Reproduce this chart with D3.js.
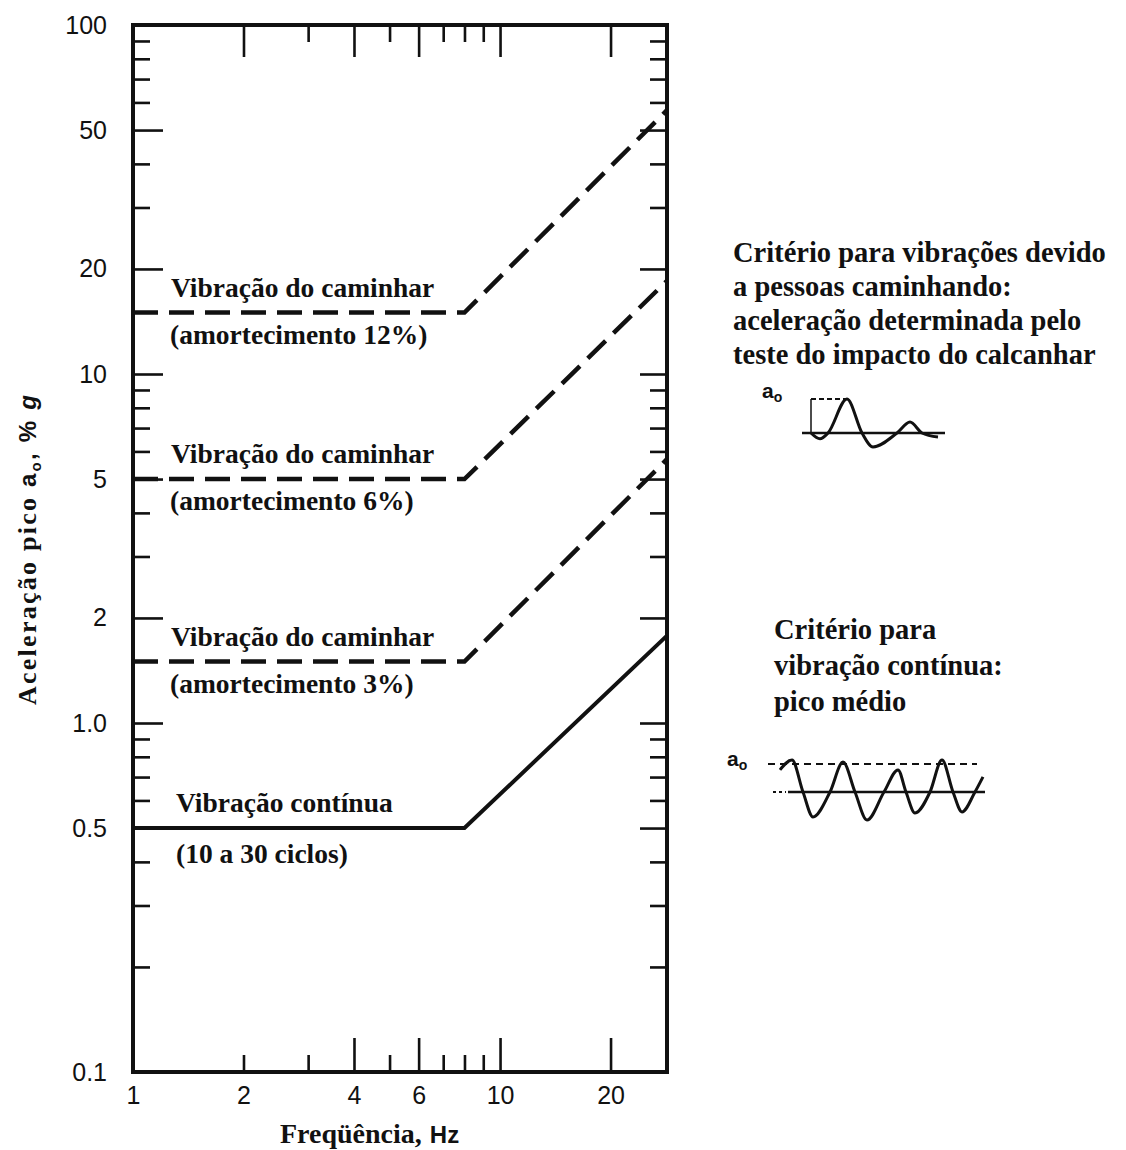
<!DOCTYPE html>
<html>
<head>
<meta charset="utf-8">
<script src="https://cdn.jsdelivr.net/npm/d3@7"></script>
<style>
  body { margin: 0; background: #fff; }
  svg { display: block; }
  .serif { font-family: "Liberation Serif", "Times New Roman", serif; font-weight: bold; fill: #111; }
  .sans { font-family: "Liberation Sans", Arial, sans-serif; fill: #111; }
</style>
</head>
<body>
<div id="my_dataviz"></div>
<script>
// criteria curves: frequency (Hz) and peak acceleration (% g)
const freqs = [1, 8, 28.5];
const walk12 = [15, 15, 57];
const walk6 = [5, 5, 18.5];
const walk3 = [1.5, 1.5, 5.7];
const continuous = [0.5, 0.5, 1.78];

const curveLine1 = ["Vibração do caminhar", "Vibração do caminhar", "Vibração do caminhar", "Vibração contínua"];
const curveLine2 = ["(amortecimento 12%)", "(amortecimento 6%)", "(amortecimento 3%)", "(10 a 30 ciclos)"];

// axis ticks
const yTickValues = [0.1, 0.5, 1, 2, 5, 10, 20, 50, 100];
const yTickText = ["0.1", "0.5", "1.0", "2", "5", "10", "20", "50", "100"];
const yMajor = [0.5, 1, 2, 5, 10, 20, 50];
const yMinor = [0.2, 0.3, 0.4, 0.6, 0.7, 0.8, 0.9, 3, 4, 6, 7, 8, 9, 30, 40, 60, 70, 80, 90];
const xTickValues = [1, 2, 4, 6, 10, 20];
const xTopLong = [2, 4, 6, 10, 20], xTopShort = [3, 5, 7, 8, 9];
const xBotLong = [4, 6, 10, 20], xBotShort = [2, 3, 5, 7, 8, 9];

// schematic signals in the side notes (time units, amplitude relative to a_o)
const heelT = [0, 9, 17, 36, 51, 62, 86, 99, 111, 127];
const heelA = [0, -0.17, 0, 1, 0, -0.41, 0, 0.32, 0, -0.12];
const contT = [0, 12, 23, 33, 50, 63, 75, 87, 104, 118, 126, 135, 150, 162, 173, 182, 195, 203];
const contA = [0.79, 1.14, 0, -0.89, 0, 1.07, 0, -1.0, 0, 0.79, 0, -0.75, 0, 1.14, 0, -0.71, 0, 0.54];

const notes1 = ["Critério para vibrações devido", "a pessoas caminhando:", "aceleração determinada pelo", "teste do impacto do calcanhar"];
const notes2 = ["Critério para", "vibração contínua:", "pico médio"];

const W = 1126, H = 1150;
const margin = {top: 25, left: 133},
    width = 534, height = 1047;

const svg = d3.select("#my_dataviz")
  .append("svg")
    .attr("width", W)
    .attr("height", H);

const g = svg.append("g")
    .attr("transform", `translate(${margin.left}, ${margin.top})`);

const x = d3.scaleLog().domain([1, 28.5]).range([0, width]);
const y = d3.scaleLog().domain([0.1, 100]).range([height, 0]);

// inside ticks
function tickAxis(axis, vals, len) {
  return axis.tickValues(vals).tickSize(-len).tickFormat("");
}
const tickGroups = [
  [d3.axisBottom(x), xBotLong, 34, `translate(0,${height})`],
  [d3.axisBottom(x), xBotShort, 17, `translate(0,${height})`],
  [d3.axisTop(x), xTopLong, 32, null],
  [d3.axisTop(x), xTopShort, 17, null],
  [d3.axisLeft(y), yMajor, 30, null],
  [d3.axisLeft(y), yMinor, 17, null],
  [d3.axisRight(y), yMajor, 27, `translate(${width},0)`],
  [d3.axisRight(y), yMinor, 17, `translate(${width},0)`]
];
tickGroups.forEach(function(t) {
  const ax = g.append("g").call(tickAxis(t[0], t[1], t[2]));
  if (t[3]) ax.attr("transform", t[3]);
  ax.select(".domain").remove();
  ax.selectAll(".tick line").attr("stroke", "#111").attr("stroke-width", 2.6);
});

// frame
g.append("rect")
  .attr("x", 0).attr("y", 0)
  .attr("width", width).attr("height", height)
  .attr("fill", "none").attr("stroke", "#111").attr("stroke-width", 4);

// tick labels
const yLab = g.append("g")
  .call(d3.axisLeft(y).tickValues(yTickValues).tickSize(0).tickPadding(26)
    .tickFormat(function(d, i) { return yTickText[i]; }));
yLab.select(".domain").remove();
yLab.selectAll("text").attr("class", "sans").style("font-size", "25px").attr("font-family", null);

const xLab = g.append("g")
  .attr("transform", `translate(0,${height})`)
  .call(d3.axisBottom(x).tickValues(xTickValues).tickSize(0).tickPadding(14)
    .tickFormat(d3.format("d")));
xLab.select(".domain").remove();
xLab.selectAll("text").attr("class", "sans").style("font-size", "25px").attr("font-family", null);

// curves
const line = d3.line()
  .x(function(d) { return x(d[0]); })
  .y(function(d) { return y(d[1]); });
const curveData = [walk12, walk6, walk3, continuous];
curveData.forEach(function(vals, i) {
  const pts = freqs.map(function(f, j) { return [f, vals[j]]; });
  g.append("path")
    .datum(pts)
    .attr("d", line)
    .attr("fill", "none")
    .attr("stroke", "#111")
    .attr("stroke-width", i < 3 ? 4.5 : 4)
    .attr("stroke-dasharray", i < 3 ? "25,11" : null);

  g.append("text")
    .attr("class", "serif")
    .attr("x", x(1) + (i < 3 ? 38 : 43))
    .attr("y", y(vals[0]) - 16)
    .style("font-size", "27.5px")
    .text(curveLine1[i]);
  g.append("text")
    .attr("class", "serif")
    .attr("x", x(1) + (i < 3 ? 37 : 43))
    .attr("y", y(vals[0]) + (i < 3 ? 31 : 35))
    .style("font-size", "27.5px")
    .text(curveLine2[i]);
});

// axis titles
const xt = svg.append("text")
  .attr("x", 280).attr("y", 1143);
xt.append("tspan").attr("class", "serif").style("font-size", "28px").text("Freqüência,");
xt.append("tspan").attr("class", "sans").style("font-size", "24px").style("font-weight", "bold")
  .attr("dx", 8).text("Hz");

const yt = svg.append("text")
  .attr("transform", "translate(36,705) rotate(-90)")
  .attr("textLength", 310)
  .attr("lengthAdjust", "spacing");
yt.append("tspan").attr("class", "serif").style("font-size", "26px").text("Aceleração pico ");
yt.append("tspan").attr("class", "sans").style("font-size", "24px").style("font-weight", "bold").text("a");
yt.append("tspan").attr("class", "sans").style("font-size", "15px").style("font-weight", "bold").attr("dy", 5).text("o");
yt.append("tspan").attr("class", "sans").style("font-size", "24px").style("font-weight", "bold").attr("dy", -5).text(", % ");
yt.append("tspan").attr("class", "sans").style("font-size", "24px").style("font-weight", "bold").style("font-style", "italic").text("g");

// side notes
svg.append("g").selectAll("text")
  .data(notes1)
  .join("text")
    .attr("class", "serif")
    .attr("x", 733)
    .attr("y", function(d, i) { return 262 + i * 34; })
    .style("font-size", "28.5px")
    .text(function(d) { return d; });

svg.append("g").selectAll("text")
  .data(notes2)
  .join("text")
    .attr("class", "serif")
    .attr("x", 774)
    .attr("y", function(d, i) { return 639 + i * 36; })
    .style("font-size", "28.5px")
    .text(function(d) { return d; });

function aoLabel(px, py) {
  const t = svg.append("text").attr("x", px).attr("y", py);
  t.append("tspan").attr("class", "sans").style("font-size", "21px").style("font-weight", "bold").text("a");
  t.append("tspan").attr("class", "sans").style("font-size", "14px").style("font-weight", "bold").attr("dy", 4).text("o");
}

// heel impact sketch
const hx = d3.scaleLinear().domain([0, 127]).range([811, 938]);
const hy = d3.scaleLinear().domain([0, 1]).range([433, 399]);
const hg = svg.append("g");
hg.append("line").attr("x1", hx(-9)).attr("x2", hx(134)).attr("y1", hy(0)).attr("y2", hy(0))
  .attr("stroke", "#111").attr("stroke-width", 2.5);
hg.append("line").attr("x1", hx(0)).attr("x2", hx(0)).attr("y1", hy(0)).attr("y2", hy(1))
  .attr("stroke", "#111").attr("stroke-width", 1.5);
hg.append("line").attr("x1", hx(0)).attr("x2", hx(36)).attr("y1", hy(1)).attr("y2", hy(1))
  .attr("stroke", "#111").attr("stroke-width", 2).attr("stroke-dasharray", "5,3");
hg.append("path")
  .datum(heelT.map(function(t, i) { return [t, heelA[i]]; }))
  .attr("d", d3.line().curve(d3.curveMonotoneX)
    .x(function(d) { return hx(d[0]); })
    .y(function(d) { return hy(d[1]); }))
  .attr("fill", "none").attr("stroke", "#111").attr("stroke-width", 3);
aoLabel(762, 398);

// continuous vibration sketch
const cx = d3.scaleLinear().domain([0, 203]).range([780, 983]);
const cy = d3.scaleLinear().domain([0, 1]).range([792, 764]);
const cg = svg.append("g");
cg.append("line").attr("x1", cx(-12)).attr("x2", cx(197)).attr("y1", cy(1)).attr("y2", cy(1))
  .attr("stroke", "#111").attr("stroke-width", 2).attr("stroke-dasharray", "7,5");
cg.append("line").attr("x1", cx(-7)).attr("x2", cx(6)).attr("y1", cy(0)).attr("y2", cy(0))
  .attr("stroke", "#111").attr("stroke-width", 2).attr("stroke-dasharray", "3,3");
cg.append("line").attr("x1", cx(8)).attr("x2", cx(205)).attr("y1", cy(0)).attr("y2", cy(0))
  .attr("stroke", "#111").attr("stroke-width", 2.5);
cg.append("path")
  .datum(contT.map(function(t, i) { return [t, contA[i]]; }))
  .attr("d", d3.line().curve(d3.curveMonotoneX)
    .x(function(d) { return cx(d[0]); })
    .y(function(d) { return cy(d[1]); }))
  .attr("fill", "none").attr("stroke", "#111").attr("stroke-width", 3);
aoLabel(727, 766);
</script>
</body>
</html>
